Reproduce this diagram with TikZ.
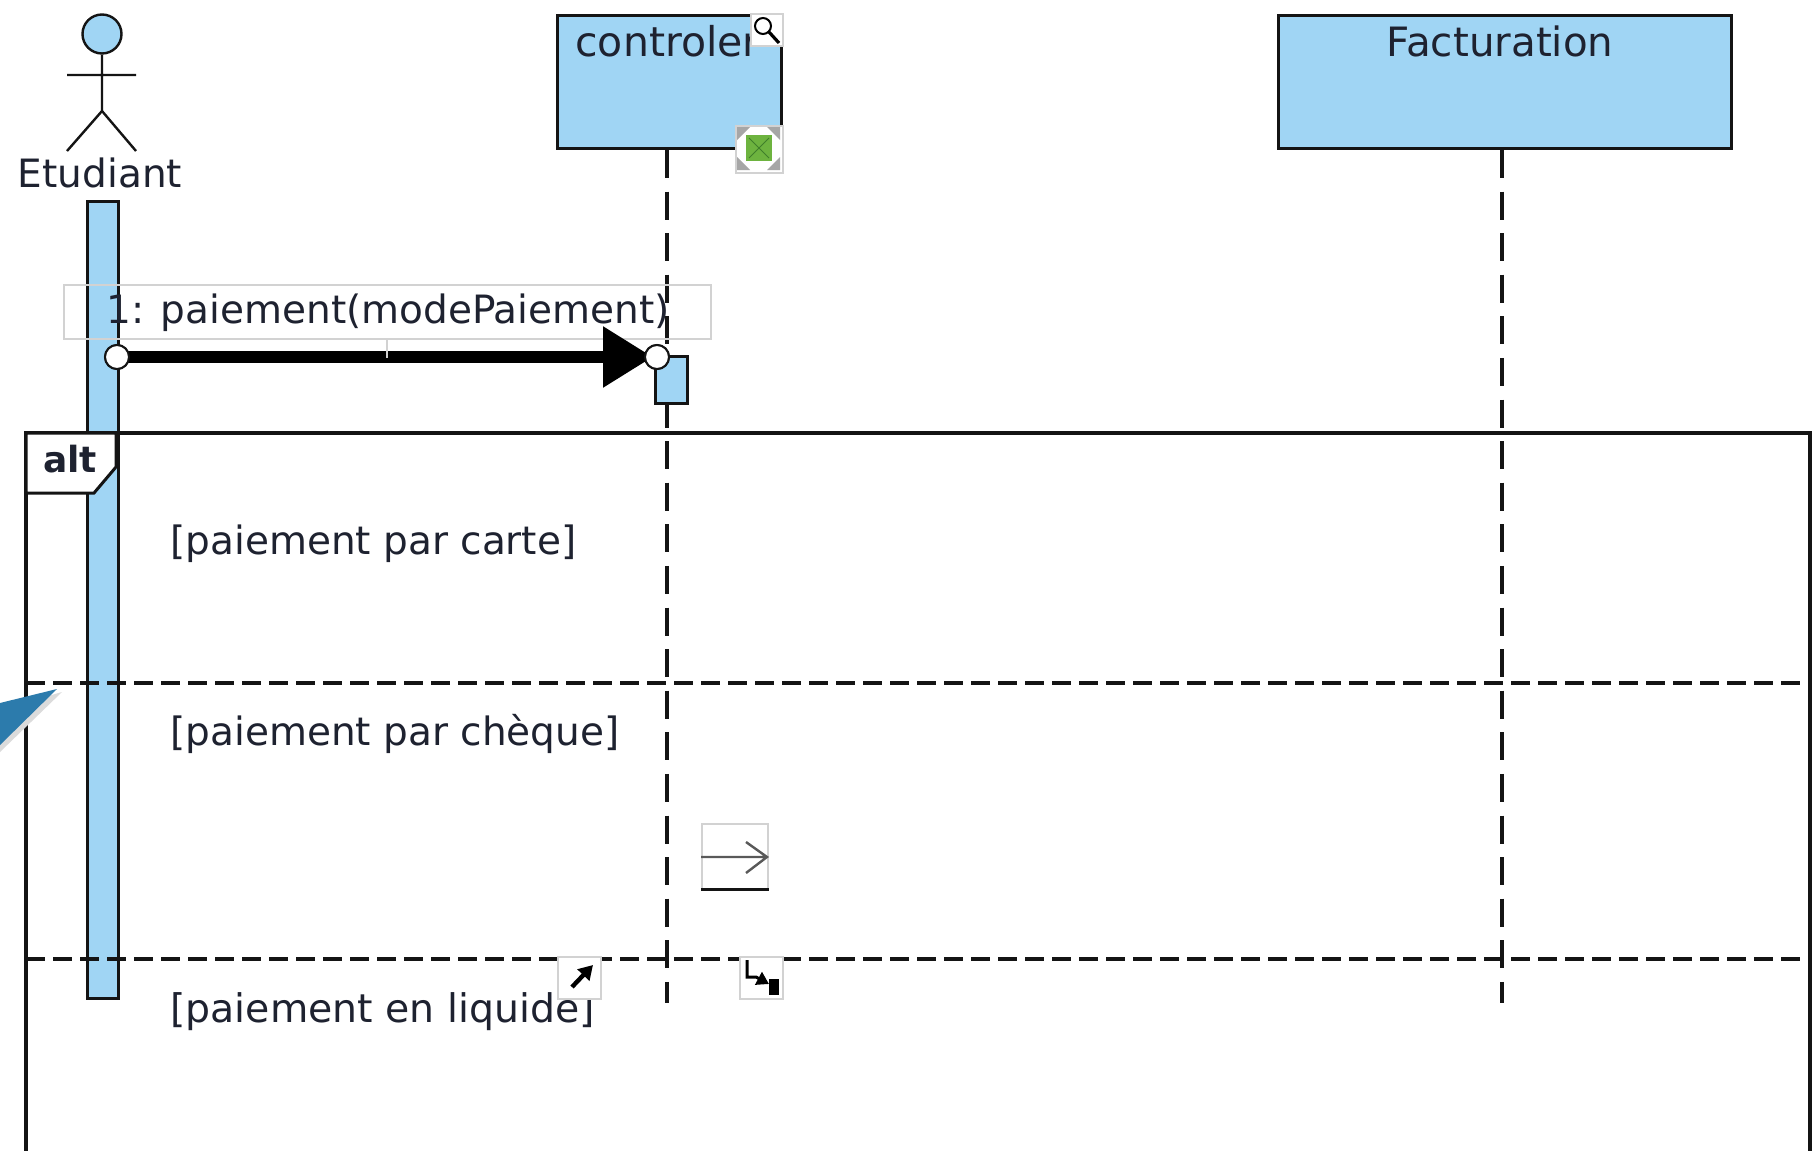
\documentclass[tikz,border=0pt]{standalone}
\usepackage{fontspec}
\setmainfont{DejaVu Sans}
\usetikzlibrary{arrows.meta}
\definecolor{umlblue}{HTML}{A0D5F4}
\definecolor{ink}{HTML}{141414}
\definecolor{frameg}{HTML}{D2D2D2}
\definecolor{txt}{HTML}{1E2230}
\definecolor{callout}{HTML}{2C7BAC}
\definecolor{fitgreen}{HTML}{6DB33F}
\definecolor{fitdark}{HTML}{3F7F2A}
\tikzset{
  px/.style={x=0.5pt,y=-0.5pt},
  umlbox/.style={draw=ink,fill=umlblue,line width=1.7pt,inner sep=0pt,anchor=north west},
  lifeln/.style={draw=ink,line width=1.6pt,dash pattern=on 14pt off 6.8pt},
  sepln/.style={draw=ink,line width=1.6pt,dash pattern=on 9.5pt off 4pt},
  handle/.style={circle,draw=ink,fill=white,line width=1pt,minimum size=12pt,inner sep=0pt},
  tool/.style={draw=frameg,fill=white,line width=0.8pt,inner sep=0pt,anchor=north west},
  lbl/.style={font=\fontsize{19.5pt}{23pt}\selectfont,text=txt,inner sep=0pt},
  guard/.style={lbl,anchor=west},
}
\begin{document}
\begin{tikzpicture}[px]
\useasboundingbox (0,0) rectangle (1812,1151);
\clip (0,0) rectangle (1812,1151);
\fill[white] (0,0) rectangle (1812,1151);

% lifelines
\node[umlbox,minimum width=224*0.5pt,minimum height=133*0.5pt] (ctrl) at (555.5,13.5) {};
\node[umlbox,minimum width=453*0.5pt,minimum height=133*0.5pt] (fact) at (1277,13.5) {};
\coordinate (ctrlend) at (667,1003);
\coordinate (factend) at (1502,1003);
\draw[lifeln] (ctrlend |- ctrl.south) -- (ctrlend);
\draw[lifeln] (factend |- fact.south) -- (factend);
\node[lbl,anchor=west,font=\fontsize{20.5pt}{23pt}\selectfont] (ctrltext) at (575,41) {controler};
\node[lbl,font=\fontsize{20.2pt}{23pt}\selectfont] (facttext) at (1500,41) {Facturation};

% actor
\node[circle,draw=ink,fill=umlblue,line width=1.2pt,minimum size=19.5pt,inner sep=0pt] (head) at (102,34) {};
\coordinate (hip) at (102,111);
\coordinate (armL) at (67,75);
\coordinate (armR) at (136,75);
\coordinate (legL) at (67,151);
\coordinate (legR) at (136,151);
\draw[ink,line width=1.2pt] (head.south) -- (hip) (armL) -- (armR) (legL) -- (hip) -- (legR);
\node[lbl] (actorname) at (100,173) {Etudiant};

% activation bars
\node[umlbox,minimum width=31*0.5pt,minimum height=797*0.5pt] (bar) at (85.5,200) {};
\node[umlbox,minimum width=32*0.5pt,minimum height=47*0.5pt] (exec) at (654,355) {};

% combined fragment
\draw[ink,line width=1.7pt] (26,1160) -- (26,433) -- (1810,433) -- (1810,1160);
\coordinate (tabA) at (26,433);
\coordinate (tabB) at (116,433);
\coordinate (tabC) at (116,467);
\coordinate (tabD) at (94,493);
\coordinate (tabE) at (26,493);
\filldraw[fill=white,draw=ink,line width=1.5pt] (tabA) -- (tabB) -- (tabC) -- (tabD) -- (tabE) -- cycle;
\node[lbl,font=\fontsize{18pt}{22pt}\selectfont\bfseries] (alt) at (70,459) {alt};
\coordinate (s1a) at (26,683); \coordinate (s1b) at (1810,683);
\coordinate (s2a) at (26,959); \coordinate (s2b) at (1810,959);
\draw[sepln] (s1a) -- (s1b);
\draw[sepln] (s2a) -- (s2b);
\node[guard] (g1) at (170,544) {[paiement par carte]};
\node[guard] (g2) at (170,734) {[paiement par chèque]};
\node[guard,font=\fontsize{19.7pt}{23pt}\selectfont] (g3) at (170,1012) {[paiement en liquide]};

% message
\node[draw=frameg,line width=0.8pt,fill=none,minimum width=647*0.5pt,minimum height=54*0.5pt,inner sep=0pt,anchor=north west] (msgbox) at (63,284) {};
\node[lbl,anchor=west] (msg) at (106,313) {1: paiement(modePaiement)};
\node[handle] (src) at (117,357) {};
\node[handle] (dst) at (657,357) {};
\draw[black,line width=6pt,-{Triangle[length=25pt,width=29pt]},shorten >=2pt] (src.center) -- (dst.center);
\node[handle] (srcTop) at (src) {};
\node[handle] (dstTop) at (dst) {};
\draw[frameg,line width=0.8pt] (387,338) -- (387,358);

% callout
\fill[black!14] (0,710) -- (62,692) -- (0,752) -- cycle;
\fill[callout] (0,703) -- (57,689) -- (0,745) -- cycle;

% floating tools
\node[tool,minimum width=32*0.5pt,minimum height=32*0.5pt] (zoomi) at (750,13) {};
\draw[black,line width=1pt] (763,26) circle[radius=8];
\draw[black,line width=1.6pt] (769,32) -- (779,43);
\node[tool,minimum width=47*0.5pt,minimum height=47*0.5pt] (fiti) at (735,125) {};
\fill[gray!70] (737,127) -- (750,127) -- (737,140) -- cycle
  (780,127) -- (767,127) -- (780,140) -- cycle
  (737,170) -- (750,170) -- (737,157) -- cycle
  (780,170) -- (767,170) -- (780,157) -- cycle;
\fill[fitgreen] (746,135) rectangle (772,161);
\draw[fitdark,line width=0.5pt] (749,138) -- (769,158) (769,138) -- (749,158);
\node[tool,minimum width=66*0.5pt,minimum height=65*0.5pt] (syncI) at (701,823) {};
\draw[ink,line width=1.5pt] (syncI.south west) -- (syncI.south east);
\draw[black!65,line width=1.2pt] (701,857) -- (767,857) (746,842) -- (767,857) -- (746,873);
\node[tool,minimum width=43*0.5pt,minimum height=42*0.5pt] (ext) at (557,956) {};
\draw[black,line width=2.2pt,-{Triangle[length=7pt,width=8pt]}] (572,987) -- (593,965);
\node[tool,minimum width=43*0.5pt,minimum height=42*0.5pt] (self) at (739,956) {};
\draw[black,line width=1.5pt,-{Triangle[length=6pt,width=7pt]}] (747,960) -- (747,977) -- (756,977) -- (769,984);
\fill[black] (769,979) rectangle (779,995);
\end{tikzpicture}
\end{document}
